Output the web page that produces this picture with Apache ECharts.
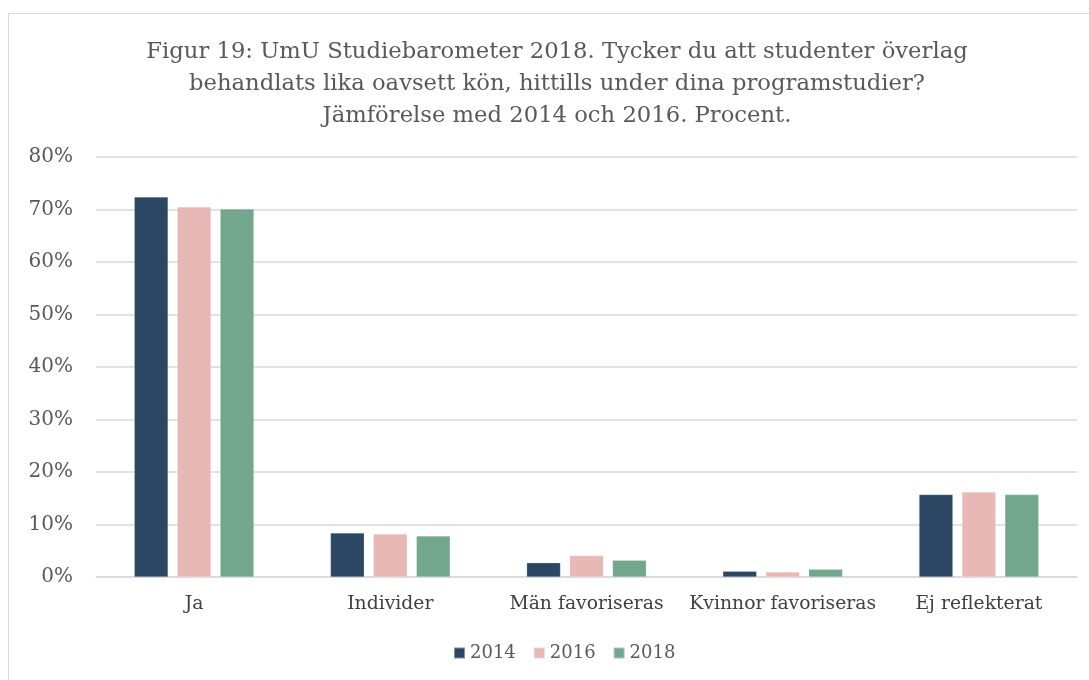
<!DOCTYPE html>
<html><head><meta charset="utf-8">
<script src="https://cdn.jsdelivr.net/npm/echarts@6/dist/echarts.min.js"></script>
<style>html,body{margin:0;padding:0;background:#fff;}#c{width:1089px;height:680px;}</style>
</head><body><div id="c"></div>
<script>
const titleText = "Figur 19: UmU Studiebarometer 2018. Tycker du att studenter överlag\nbehandlats lika oavsett kön, hittills under dina programstudier?\nJämförelse med 2014 och 2016. Procent.";
const categories = ["Ja", "Individer", "Män favoriseras", "Kvinnor favoriseras", "Ej reflekterat"];
const seriesNames = ["2014", "2016", "2018"];
const v2014 = [72.4, 8.4, 2.7, 1.1, 15.7];
const v2016 = [70.5, 8.2, 4.1, 0.95, 16.2];
const v2018 = [70.1, 7.8, 3.2, 1.5, 15.7];
const colors = ["#2B4764", "#E8B8B6", "#72A78E"];
const FONT = "DejaVu Serif";

const chart = echarts.init(document.getElementById('c'), null, {renderer: 'canvas'});
const values = [v2014, v2016, v2018];
chart.setOption({
  animation: false,
  color: colors,
  graphic: [{type: 'rect', shape: {x: 8.5, y: 13.5, width: 1200, height: 800}, style: {fill: 'none', stroke: '#D9D9D9', lineWidth: 1}, silent: true, z: -1}],
  title: {text: titleText, left: 557, top: 36, textAlign: 'center', padding: 0, textStyle: {fontFamily: FONT, fontWeight: 'normal', fontSize: 22.7, color: '#595959', lineHeight: 32}},
  legend: {bottom: 18, left: 453, padding: 0, itemWidth: 11, itemHeight: 11, itemGap: 17, icon: 'rect',
    textStyle: {fontFamily: FONT, fontSize: 18, color: '#595959'}, data: seriesNames},
  grid: {left: 96, right: 12, top: 157, bottom: 103, containLabel: false},
  xAxis: {type: 'category', data: categories,
    axisLine: {lineStyle: {color: '#D9D9D9', width: 1.5}}, axisTick: {show: false},
    axisLabel: {interval: 0, fontFamily: FONT, fontSize: 18.8, color: '#404040', margin: 18}},
  yAxis: {type: 'value', min: 0, max: 80, interval: 10,
    axisLine: {show: false}, axisTick: {show: false},
    splitLine: {lineStyle: {color: '#D9D9D9', width: 1.5}},
    axisLabel: {formatter: '{value}%', fontFamily: FONT, fontSize: 20, color: '#595959', margin: 23}},
  series: seriesNames.map((n, i) => ({name: n, type: 'bar', data: values[i], barGap: '27%', barCategoryGap: '39%',
    itemStyle: {borderColor: 'rgba(255,255,255,0.4)', borderWidth: 0.5}}))
});
</script></body></html>
